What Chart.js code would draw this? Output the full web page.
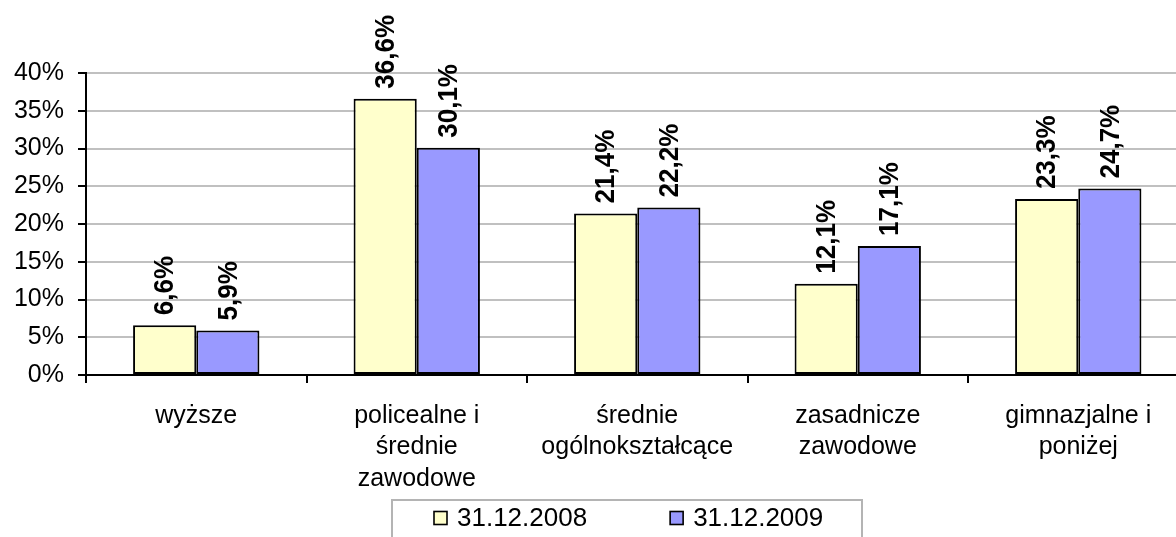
<!DOCTYPE html>
<html>
<head>
<meta charset="utf-8">
<script src="https://cdn.jsdelivr.net/npm/chart.js@4"></script>
<style>
html,body{margin:0;padding:0;background:#fff;overflow:hidden;}
#wrap{width:1200px;height:537px;position:relative;}
</style>
</head>
<body>
<div id="wrap"><canvas id="c"></canvas></div>
<script>
const categories = [
  ['wyższe'],
  ['policealne i', 'średnie', 'zawodowe'],
  ['średnie', 'ogólnokształcące'],
  ['zasadnicze', 'zawodowe'],
  ['gimnazjalne i', 'poniżej']
];
const seriesNames = ['31.12.2008', '31.12.2009'];
const values2008 = [6.6, 36.6, 21.4, 12.1, 23.3];
const values2009 = [5.9, 30.1, 22.2, 17.1, 24.7];
const yMin = 0, yMax = 40, yStep = 5;

const FONT = 'Arial, "Liberation Sans", sans-serif';

const dataLabels = {
  id: 'dataLabels',
  afterDatasetsDraw(chart) {
    const ctx = chart.ctx;
    chart.data.datasets.forEach((ds, di) => {
      const meta = chart.getDatasetMeta(di);
      meta.data.forEach((bar, i) => {
        const txt = ds.data[i].toFixed(1).replace('.', ',') + '%';
        ctx.save();
        ctx.translate(bar.x, bar.y - 10);
        ctx.rotate(-Math.PI / 2);
        ctx.scale(1, 1.08);
        ctx.font = 'bold 26px ' + FONT;
        ctx.fillStyle = '#000';
        ctx.textAlign = 'left';
        ctx.textBaseline = 'middle';
        ctx.fillText(txt, 0, 1);
        ctx.restore();
      });
    });
  }
};

const boxLegend = {
  id: 'boxLegend',
  afterDraw(chart) {
    const ctx = chart.ctx;
    ctx.save();
    ctx.strokeStyle = '#b4b4b4';
    ctx.lineWidth = 2;
    ctx.strokeRect(392, 500, 470, 60);
    ctx.font = '26px ' + FONT;
    ctx.textBaseline = 'middle';
    ctx.textAlign = 'left';
    let x = 433;
    chart.data.datasets.forEach(ds => {
      ctx.fillStyle = ds.backgroundColor;
      ctx.fillRect(x + 1, 511.5, 13, 13);
      ctx.strokeStyle = '#000';
      ctx.lineWidth = 1.6;
      ctx.strokeRect(x + 1, 511.5, 13, 13);
      ctx.fillStyle = '#000';
      ctx.fillText(ds.label, x + 24, 519);
      x += 24 + ctx.measureText(ds.label).width + 82;
    });
    ctx.restore();
  }
};

new Chart(document.getElementById('c'), {
  type: 'bar',
  data: {
    labels: categories,
    datasets: [
      { label: seriesNames[0], data: values2008, backgroundColor: '#FFFFCC', borderColor: '#000', borderWidth: 2, borderSkipped: false, categoryPercentage: 0.573, barPercentage: 1 },
      { label: seriesNames[1], data: values2009, backgroundColor: '#9999FF', borderColor: '#000', borderWidth: 2, borderSkipped: false, categoryPercentage: 0.573, barPercentage: 1 }
    ]
  },
  options: {
    responsive: true,
    maintainAspectRatio: false,
    animation: false,
    layout: { padding: { top: 73, right: 11.5, left: 0, bottom: 0 } },
    plugins: { legend: { display: false }, tooltip: { enabled: false } },
    scales: {
      x: {
        offset: true,
        ticks: { color: '#000', font: { size: 25, family: FONT, lineHeight: 1.26 }, padding: 17, maxRotation: 0, minRotation: 0, autoSkip: false },
        grid: { offset: true, drawOnChartArea: false, drawTicks: true, tickLength: 8, tickColor: '#000', tickWidth: 2, color: '#000', lineWidth: 2 },
        border: { color: '#000', width: 2 },
        afterFit(s) { s.height = 162; }
      },
      y: {
        min: yMin, max: yMax,
        ticks: { stepSize: yStep, color: '#000', font: { size: 25, family: FONT }, padding: 14, callback: v => v + '%' },
        grid: { color: '#c0c0c0', lineWidth: 2, tickColor: '#000', tickLength: 8, tickWidth: 2 },
        border: { color: '#000', width: 2 },
        afterFit(s) { s.width = 86; }
      }
    }
  },
  plugins: [dataLabels, boxLegend]
});
</script>
</body>
</html>
